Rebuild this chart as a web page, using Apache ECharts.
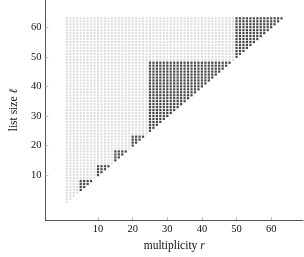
<!DOCTYPE html>
<html>
<head>
<meta charset="utf-8">
<script src="https://cdn.jsdelivr.net/npm/echarts@6/dist/echarts.min.js"></script>
<style>html,body{margin:0;padding:0;background:#fff}#c{width:304px;height:257px}</style>
</head>
<body>
<div id="c"></div>
<script>
// multiplicity r (one column per value)
const multiplicity = [1,2,3,4,5,6,7,8,9,10,11,12,13,14,15,16,17,18,19,20,21,22,23,24,25,26,27,28,29,30,31,32,33,34,35,36,37,38,39,40,41,42,43,44,45,46,47,48,49,50,51,52,53,54,55,56,57,58,59,60,61,62,63];
// lowest list size in each column
const listMin = [1,2,3,4,5,6,7,8,9,10,11,12,13,14,15,16,17,18,19,20,21,22,23,24,25,26,27,28,29,30,31,32,33,34,35,36,37,38,39,40,41,42,43,44,45,46,47,48,49,50,51,52,53,54,55,56,57,58,59,60,61,62,63];
// highest list size in each column
const listMax = [63,63,63,63,63,63,63,63,63,63,63,63,63,63,63,63,63,63,63,63,63,63,63,63,63,63,63,63,63,63,63,63,63,63,63,63,63,63,63,63,63,63,63,63,63,63,63,63,63,63,63,63,63,63,63,63,63,63,63,63,63,63,63];
// highest list size drawn black in each column (0 = none)
const blackMax = [0,0,0,0,8,8,8,8,0,13,13,13,13,0,18,18,18,18,0,23,23,23,23,0,48,48,48,48,48,48,48,48,48,48,48,48,48,48,48,48,48,48,48,48,48,48,48,48,0,63,63,63,63,63,63,63,63,63,63,63,63,63,63];
const xTicks = [10,20,30,40,50,60];
const yTicks = [10,20,30,40,50,60];

const grayPts = [], blackPts = [];
multiplicity.forEach((r, i) => {
  for (let l = listMin[i]; l <= listMax[i]; l++) {
    if (l <= blackMax[i]) blackPts.push([r, l]); else grayPts.push([r, l]);
  }
});

const font = '"Liberation Serif", "DejaVu Serif", serif';
const chart = echarts.init(document.getElementById('c'), null, {renderer: 'canvas'});
const axisCommon = {
  type: 'value', min: -5.2, max: 69.2,
  splitLine: {show: false},
  axisLine: {show: true, onZero: false, lineStyle: {color: '#555', width: 1}},
  axisTick: {show: true, inside: true, length: 3, lineStyle: {color: '#aaa', width: 0.8}},
  nameTextStyle: {fontFamily: font, fontSize: 11.5, color: '#111',
    rich: {i: {fontFamily: font, fontStyle: 'italic', fontSize: 11.5, color: '#111'}}}
};
chart.setOption({
  animation: false,
  grid: {left: 34, right: 1, top: 0, bottom: 32.4},
  xAxis: Object.assign({}, axisCommon, {
    name: 'multiplicity {i|r}', nameLocation: 'middle', nameGap: 16,
    axisTick: Object.assign({}, axisCommon.axisTick, {customValues: xTicks}),
    axisLabel: {customValues: xTicks, margin: 4, fontFamily: font, fontSize: 10.5, color: '#111'}
  }),
  yAxis: Object.assign({}, axisCommon, {
    name: 'list size {i|ℓ}', nameLocation: 'middle', nameGap: 25, nameRotate: 90,
    axisTick: Object.assign({}, axisCommon.axisTick, {customValues: yTicks}),
    axisLabel: {customValues: yTicks, margin: 4, fontFamily: font, fontSize: 10.5, color: '#111'}
  }),
  series: [
    {type: 'scatter', data: grayPts, symbol: 'rect', symbolSize: 2, silent: true,
     itemStyle: {color: '#d2d2d2'}},
    {type: 'scatter', data: blackPts, symbol: 'rect', symbolSize: 2.2, silent: true,
     itemStyle: {color: '#151515'}}
  ]
});
</script>
</body>
</html>
